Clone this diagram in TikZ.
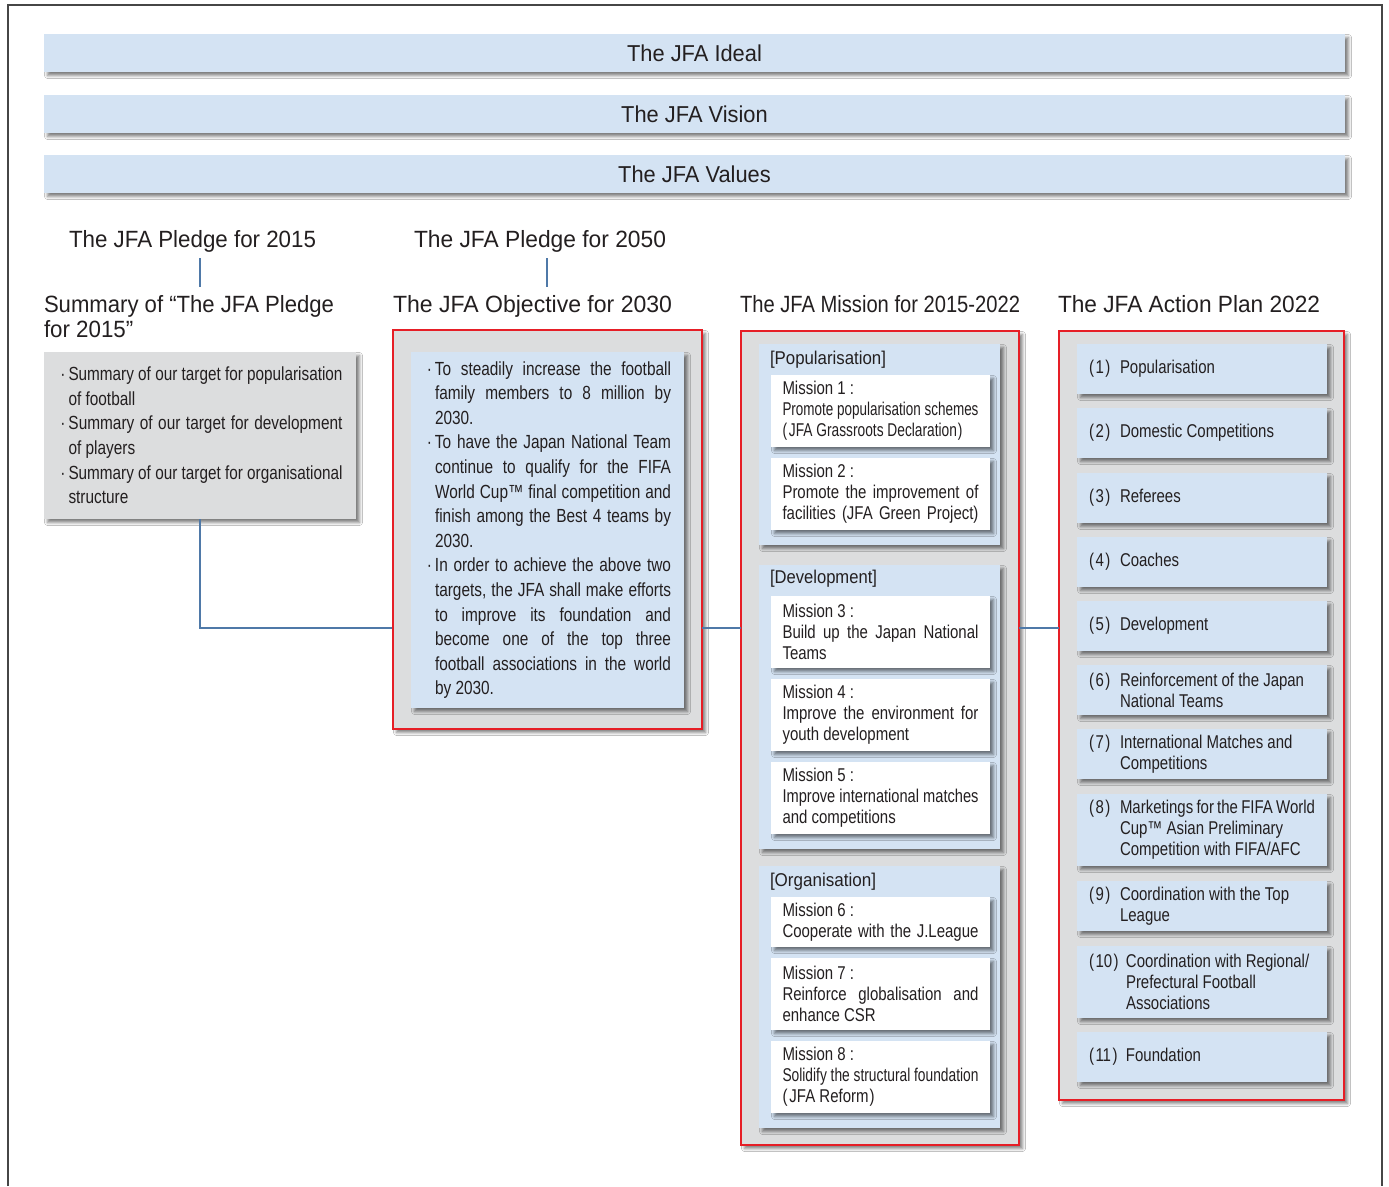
\documentclass[tikz,border=0pt]{standalone}
\usepackage{fontspec}
\usepackage{graphicx}
\setmainfont{Liberation Sans}
\newfontfamily\condfont[FakeStretch=0.81]{Liberation Sans}
\newfontfamily\headfont[FakeStretch=0.95]{Liberation Sans}
\usetikzlibrary{shadows.blur,calc}
\definecolor{jblue}{RGB}{212,227,243}
\definecolor{jgray}{RGB}{220,221,222}
\definecolor{jred}{RGB}{230,30,38}
\definecolor{jline}{RGB}{79,121,168}
\definecolor{jtext}{RGB}{35,31,32}
\definecolor{jframe}{RGB}{70,70,70}
\newsavebox\jfabox
\newlength\jfalen
\newcommand\fitto[2]{\sbox\jfabox{#2}\setlength\jfalen{\wd\jfabox}\pgfmathsetmacro\jfar{#1/\jfalen}\scalebox{\jfar}[1]{\usebox\jfabox}}
\newcommand\jline[2]{\sbox\jfabox{#2}\setlength\jfalen{\wd\jfabox}\ifdim\jfalen>#1\relax\pgfmathsetmacro\jfar{#1/\jfalen}\scalebox{\jfar}[1]{\usebox\jfabox}\else\makebox[#1][s]{#2}\fi}
\newcommand\bul{\makebox[11pt]{·}}
\newcommand\ind{\hspace*{11pt}}
\newcommand\fA{\condfont\fontsize{19}{24.6}\selectfont}
\newcommand\fM{\condfont\fontsize{18.5}{21}\selectfont}
\newcommand\fH{\headfont\fontsize{23.5}{25}\selectfont}
\newcommand\num[1]{\makebox[31pt][l]{(\kern1.5pt#1\kern1.5pt)}}
\newcommand\numw[1]{\makebox[37pt][l]{(\kern1.5pt#1\kern1.5pt)}}
\tikzset{
  boxbase/.style={shape=rectangle, anchor=north west, inner sep=0pt, outer sep=0pt},
  shad/.style={blur shadow={shadow xshift=3.5pt, shadow yshift=-3.5pt, shadow blur radius=3pt, shadow opacity=50}},
  bar/.style={boxbase, fill=jblue, shad, minimum width=1301pt, minimum height=38pt, font=\headfont\fontsize{23}{26}\selectfont},
  head/.style={inner sep=0pt, outer sep=0pt, anchor=base west, font=\fH},
  graybox/.style={boxbase, fill=jgray, shad},
  redbox/.style={boxbase, fill=jgray, draw=jred, line width=2pt, shad},
  bluebox/.style={boxbase, fill=jblue, shad},
  groupbox/.style={boxbase, fill=jblue, shad, minimum width=241pt},
  whitebox/.style={boxbase, fill=white, shad, minimum width=219pt},
  actbox/.style={boxbase, fill=jblue, shad, minimum width=250pt},
  grouplabel/.style={inner sep=0pt, outer sep=0pt, anchor=west, font=\fM},
  conn/.style={draw=jline, line width=2pt},
  every node/.append style={text=jtext}
}
\begin{document}
\begin{tikzpicture}[x=1pt,y=-1pt]
\useasboundingbox (0,0) rectangle (1389,1186);
\fill[white] (0,0) rectangle (1389,1186);
\draw[jframe, line width=2pt] (7.5,1186) -- (7.5,5) -- (1382,5) -- (1382,1186);

% top bars
\node[bar] (ideal) at (44,34) {The JFA Ideal};
\node[bar] (vision) at (44,95) {The JFA Vision};
\node[bar] (values) at (44,155) {The JFA Values};

% headings
\node[head] (p15) at (69,247) {\fitto{247pt}{The JFA Pledge for 2015}};
\node[head] (p50) at (414,247) {\fitto{252pt}{The JFA Pledge for 2050}};
\node[head] (sumh1) at (44,312) {\fitto{290pt}{Summary of “The JFA Pledge}};
\node[head] (sumh2) at (44,337) {for 2015”};
\node[head] (obh) at (393,312) {\fitto{279pt}{The JFA Objective for 2030}};
\node[head] (mih) at (740,312) {\fitto{280pt}{The JFA Mission for 2015-2022}};
\node[head] (ach) at (1058,312) {\fitto{262pt}{The JFA Action Plan 2022}};

\coordinate (v1a) at (200,258);
\coordinate (v1b) at (200,287);
\coordinate (v2a) at (547,258);
\coordinate (v2b) at (547,287);
\draw[conn] (v1a) -- (v1b);
\draw[conn] (v2a) -- (v2b);

% summary box
\node[graybox, minimum width=312pt, minimum height=167pt] (g1) at (44,352) {\parbox{285pt}{\fA
\bul\jline{274pt}{Summary of our target for popularisation}\\
\ind of football\\
\bul\jline{274pt}{Summary of our target for development}\\
\ind of players\\
\bul\jline{274pt}{Summary of our target for organisational}\\
\ind structure}};

% connectors
\coordinate (jy) at (0,628);
\draw[conn] (g1.south) |- (393,628) coordinate (objl);

% objective
\node[redbox, minimum width=309pt, minimum height=399pt] (obj) at (393,330) {};
\node[bluebox, minimum width=273pt, minimum height=356pt] (objin) at (411,352) {\parbox{247pt}{\fA
\bul\jline{236pt}{To steadily increase the football}\\
\ind\jline{236pt}{family members to 8 million by}\\
\ind 2030.\\
\bul\jline{236pt}{To have the Japan National Team}\\
\ind\jline{236pt}{continue to qualify for the FIFA}\\
\ind\jline{236pt}{World Cup™ final competition and}\\
\ind\jline{236pt}{finish among the Best 4 teams by}\\
\ind 2030.\\
\bul\jline{236pt}{In order to achieve the above two}\\
\ind\jline{236pt}{targets, the JFA shall make efforts}\\
\ind\jline{236pt}{to improve its foundation and}\\
\ind\jline{236pt}{become one of the top three}\\
\ind\jline{236pt}{football associations in the world}\\
\ind by 2030.}};

% mission
\node[redbox, minimum width=278pt, minimum height=814pt] (mis) at (741,331) {};
\node[groupbox, minimum height=201pt] (gpop) at (759,344) {};
\node[groupbox, minimum height=284pt] (gdev) at (759,565) {};
\node[groupbox, minimum height=262pt] (gorg) at (759,866) {};
\node[grouplabel] (lpop) at (770,360) {\fitto{116pt}{[Popularisation]}};
\node[grouplabel] (ldev) at (770,579) {\fitto{107pt}{[Development]}};
\node[grouplabel] (lorg) at (770,882) {\fitto{106pt}{[Organisation]}};

\node[whitebox, minimum height=72pt] (m1) at (771,375) {\parbox{196pt}{\fM Mission 1 :\\
\jline{196pt}{Promote popularisation schemes}\\
\fitto{180pt}{(\kern2pt JFA Grassroots Declaration\kern1pt)}}};
\node[whitebox, minimum height=72pt] (m2) at (771,458) {\parbox{196pt}{\fM Mission 2 :\\
\jline{196pt}{Promote the improvement of}\\
\jline{196pt}{facilities (JFA Green Project)}}};
\node[whitebox, minimum height=72pt] (m3) at (771,596) {\parbox{196pt}{\fM Mission 3 :\\
\jline{196pt}{Build up the Japan National}\\
Teams}};
\node[whitebox, minimum height=72pt] (m4) at (771,679) {\parbox{196pt}{\fM Mission 4 :\\
\jline{196pt}{Improve the environment for}\\
youth development}};
\node[whitebox, minimum height=72pt] (m5) at (771,762) {\parbox{196pt}{\fM Mission 5 :\\
\jline{196pt}{Improve international matches}\\
and competitions}};
\node[whitebox, minimum height=50pt] (m6) at (771,897) {\parbox{196pt}{\fM Mission 6 :\\
\jline{196pt}{Cooperate with the J.League}}};
\node[whitebox, minimum height=72pt] (m7) at (771,958) {\parbox{196pt}{\fM Mission 7 :\\
\jline{196pt}{Reinforce globalisation and}\\
enhance CSR}};
\node[whitebox, minimum height=72pt] (m8) at (771,1041) {\parbox{196pt}{\fM Mission 8 :\\
\jline{196pt}{Solidify the structural foundation}\\
(\kern2pt JFA Reform\kern1pt)}};

% action plan
\node[redbox, minimum width=285pt, minimum height=769pt] (act) at (1059,331) {};
\node[actbox, minimum height=50pt] (a1) at (1077,344) {\parbox{226pt}{\fM\num{1}Popularisation}};
\node[actbox, minimum height=50pt] (a2) at (1077,408) {\parbox{226pt}{\fM\num{2}Domestic Competitions}};
\node[actbox, minimum height=50pt] (a3) at (1077,473) {\parbox{226pt}{\fM\num{3}Referees}};
\node[actbox, minimum height=50pt] (a4) at (1077,537) {\parbox{226pt}{\fM\num{4}Coaches}};
\node[actbox, minimum height=50pt] (a5) at (1077,601) {\parbox{226pt}{\fM\num{5}Development}};
\node[actbox, minimum height=50pt] (a6) at (1077,665) {\parbox{226pt}{\fM\num{6}Reinforcement of the Japan\\\hspace*{31pt}National Teams}};
\node[actbox, minimum height=50pt] (a7) at (1077,729) {\parbox{226pt}{\fM\num{7}International Matches and\\\hspace*{31pt}Competitions}};
\node[actbox, minimum height=72pt] (a8) at (1077,794) {\parbox{226pt}{\fM\num{8}Marketings for the FIFA World\\\hspace*{31pt}Cup™ Asian Preliminary\\\hspace*{31pt}Competition with FIFA/AFC}};
\node[actbox, minimum height=50pt] (a9) at (1077,881) {\parbox{226pt}{\fM\num{9}Coordination with the Top\\\hspace*{31pt}League}};
\node[actbox, minimum height=72pt] (a10) at (1077,946) {\parbox{226pt}{\fM\numw{10}Coordination with Regional/\\\hspace*{37pt}Prefectural Football\\\hspace*{37pt}Associations}};
\node[actbox, minimum height=50pt] (a11) at (1077,1032) {\parbox{226pt}{\fM\numw{11}Foundation}};

% horizontal connectors between columns
\draw[conn] (obj.east |- jy) -- (mis.west |- jy);
\draw[conn] (mis.east |- jy) -- (act.west |- jy);
\end{tikzpicture}
\end{document}
